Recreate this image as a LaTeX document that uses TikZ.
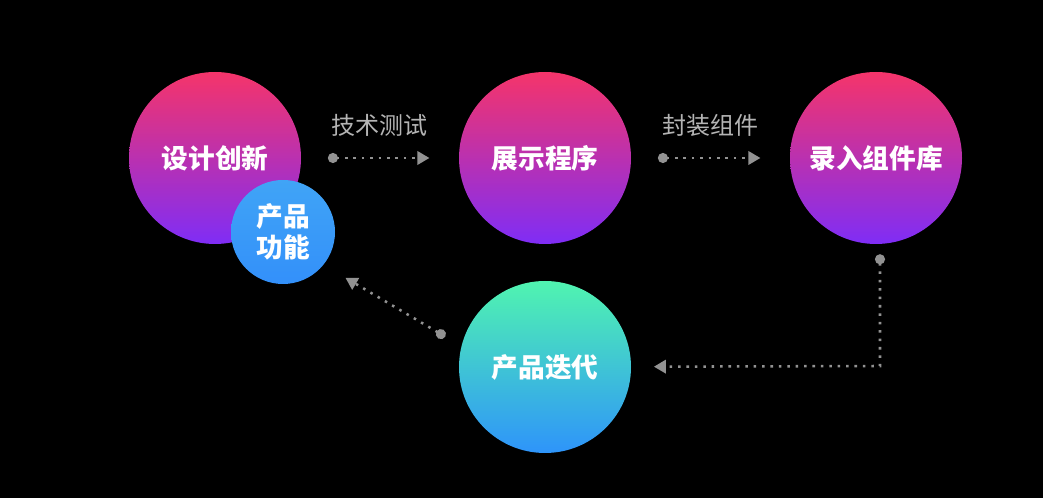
\documentclass[tikz,border=0pt]{standalone}
\usepackage{fontspec}
\setmainfont{Noto Sans CJK SC}
\usepackage{xcolor}
\usepackage{tikz}
\usetikzlibrary{arrows.meta}

\definecolor{pinktop}{HTML}{F5346A}
\definecolor{violetbot}{HTML}{7F2DF6}
\definecolor{bluetop}{HTML}{40A4F6}
\definecolor{bluebot}{HTML}{3390FA}
\definecolor{minttop}{HTML}{50F4B0}
\definecolor{skybot}{HTML}{2E94FA}
\definecolor{labelgray}{HTML}{B4B4B4}
\definecolor{flowgray}{HTML}{929292}

\begin{document}
\begin{tikzpicture}[x=0.75pt,y=-0.75pt]
		\fill[black] (0,0) rectangle (1043,498);
		\tikzstyle{ball}=[circle,inner sep=0pt,minimum size=129pt,text=white,align=center,font=\fontsize{20}{23}\selectfont\bfseries]
		\tikzstyle{pinkball}=[ball,top color=pinktop,bottom color=violetbot]
		\tikzstyle{flow}=[flowgray,line width=1.9pt,dash pattern=on 1.9pt off 4.4pt,{Circle[length=7.5pt]}-{Triangle[length=9pt,width=10pt]}]
		\tikzstyle{tag}=[text=labelgray,font=\fontsize{18}{20}\selectfont]
		\node[pinkball] (design) at (215,158) {设计创新};
		\node[ball,minimum size=78pt,top color=bluetop,bottom color=bluebot] (func) at (283,232) {产品\\功能};
		\node[pinkball] (show) at (545,158) {展示程序};
		\node[pinkball] (lib) at (876,158) {录入组件库};
		\node[ball,top color=minttop,bottom color=skybot] (iter) at (545,367) {产品迭代};
		\node[tag] (test) at (379,125) {技术测试};
		\node[tag] (pack) at (710,125) {封装组件};
		\coordinate (corner) at (880,366);
		\draw[flow,shorten <=20pt,shorten >=22pt] (design) -- (show);
		\draw[flow,shorten <=20pt,shorten >=22pt] (show) -- (lib);
		\draw[flow,shorten <=7.5pt,shorten >=17pt] (lib.south -| corner) -- (corner) -- (iter);
		\draw[flow,shorten <=14pt,shorten >=19pt] (iter.166) -- (func.-39);
		\end{tikzpicture}
\end{document}
